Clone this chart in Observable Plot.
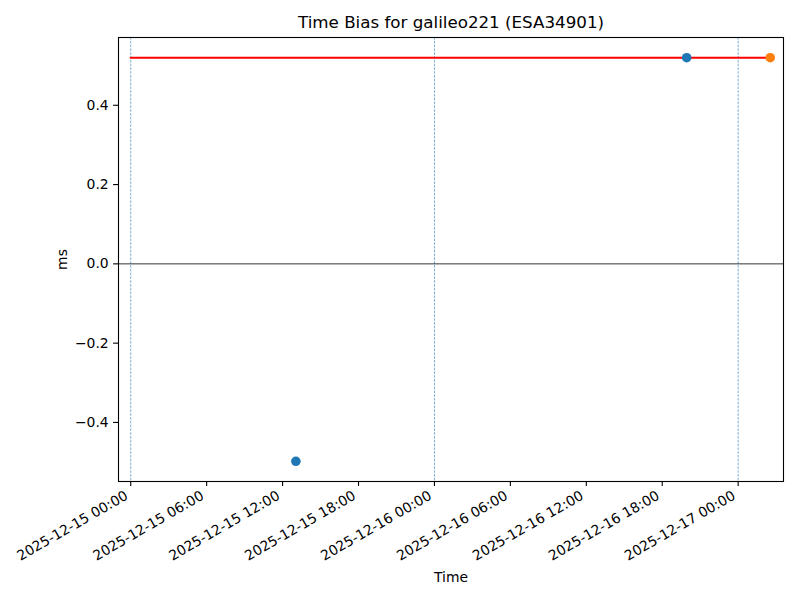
<!DOCTYPE html>
<html>
<head>
<meta charset="utf-8">
<script src="https://cdn.jsdelivr.net/npm/d3@7"></script>
<script src="https://cdn.jsdelivr.net/npm/@observablehq/plot@0.6"></script>
<style>
  html, body { margin: 0; padding: 0; background: #fff; }
  svg { display: block; }
</style>
</head>
<body>
<div id="chart"></div>
<script>
// ---- data ----
const title = "Time Bias for galileo221 (ESA34901)";
const yLabel = "ms";
const xLabel = "Time";

const blueTimes = ["2025-12-15T13:03:00Z", "2025-12-16T19:56:00Z"];
const blueValues = [-0.498, 0.52];

const orangeTimes = ["2025-12-17T02:32:00Z"];
const orangeValues = [0.52];

const refLineTimes = ["2025-12-15T00:00:00Z", "2025-12-17T02:32:00Z"];
const refLineValue = 0.52;

const dayLines = ["2025-12-15T00:00:00Z", "2025-12-16T00:00:00Z", "2025-12-17T00:00:00Z"];

const xTicks = [
  "2025-12-15T00:00:00Z", "2025-12-15T06:00:00Z", "2025-12-15T12:00:00Z",
  "2025-12-15T18:00:00Z", "2025-12-16T00:00:00Z", "2025-12-16T06:00:00Z",
  "2025-12-16T12:00:00Z", "2025-12-16T18:00:00Z", "2025-12-17T00:00:00Z"
];
const yTicks = [-0.4, -0.2, 0.0, 0.2, 0.4];

const xDomain = ["2025-12-14T23:02:00Z", "2025-12-17T03:35:00Z"];
const yDomain = [-0.549, 0.571];

// ---- build ----
const P = s => new Date(s);
const blue = blueTimes.map((t, i) => ({t: P(t), v: blueValues[i]}));
const orange = orangeTimes.map((t, i) => ({t: P(t), v: orangeValues[i]}));
const refLine = refLineTimes.map(t => ({t: P(t), v: refLineValue}));
const days = dayLines.map(P);
const xTickDates = xTicks.map(P);

const font = "DejaVu Sans, sans-serif";
const fmt = d3.utcFormat("%Y-%m-%d %H:%M");

const chart = Plot.plot({
  width: 800,
  height: 600,
  marginLeft: 118,
  marginRight: 17,
  marginTop: 37,
  marginBottom: 119,
  style: {fontFamily: font, fontSize: "13.9px", color: "#000", background: "#fff"},
  x: {type: "utc", domain: xDomain.map(P)},
  y: {domain: yDomain},
  marks: [
    Plot.ruleX(days, {stroke: "#1f77b4", strokeWidth: 0.7, strokeDasharray: "2.6,1.2", strokeOpacity: 0.85}),
    Plot.ruleY([0], {stroke: "#000", strokeWidth: 0.8}),
    Plot.line(refLine, {x: "t", y: "v", stroke: "#ff0000", strokeWidth: 2.08}),
    Plot.dot(blue, {x: "t", y: "v", r: 4.8, fill: "#1f77b4", stroke: "none"}),
    Plot.dot(orange, {x: "t", y: "v", r: 4.8, fill: "#ff7f0e", stroke: "none"}),
    Plot.frame({stroke: "#000", strokeWidth: 1.1}),
    // tick marks only
    Plot.axisX({
      ticks: xTickDates, tickFormat: () => "", tickSize: 4.9, label: null, stroke: "#000", strokeWidth: 1.1
    }),
    // rotated tick labels
    Plot.axisX({
      ticks: xTickDates, tickFormat: fmt, tickRotate: -30, tickSize: 0,
      tickPadding: 9, dx: -4, dy: 4, textAnchor: "end", label: null, fontSize: 13.9, fill: "#000"
    }),
    Plot.axisY({
      ticks: yTicks, tickFormat: d3.format(".1f"), tickSize: 4.9, tickPadding: 4.9,
      label: null, fontSize: 13.9, stroke: "#000", strokeWidth: 1.1
    }),
    Plot.text([title], {frameAnchor: "top", lineAnchor: "middle", dy: -15, fontSize: 16.7, fill: "#000"}),
    Plot.text([xLabel], {frameAnchor: "bottom", lineAnchor: "middle", dy: 96, fontSize: 13.9, fill: "#000"}),
    Plot.text([yLabel], {frameAnchor: "left", textAnchor: "middle", lineAnchor: "middle", dx: -56, rotate: -90, fontSize: 13.9, fill: "#000"})
  ]
});
document.getElementById("chart").append(chart);
</script>
</body>
</html>
